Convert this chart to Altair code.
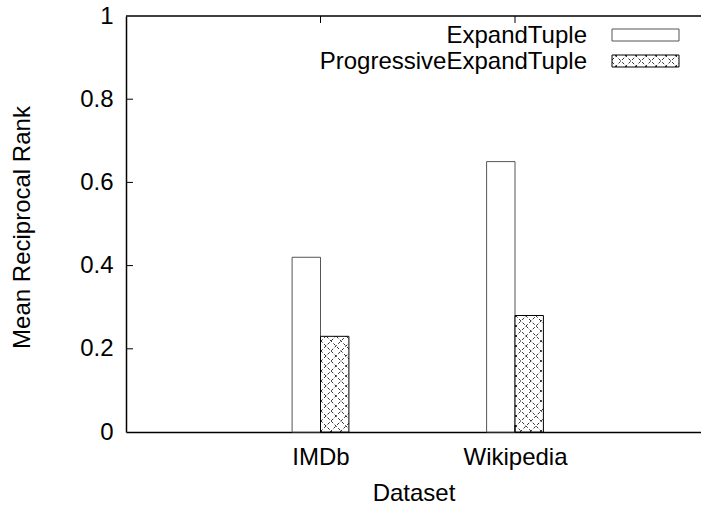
import json
import math
import altair as alt
import pandas as pd

# ---------------- data ----------------
categories = ["IMDb", "Wikipedia"]
series = ["ExpandTuple", "ProgressiveExpandTuple"]
expand_tuple = [0.42, 0.65]
progressive_expand_tuple = [0.23, 0.28]
y_ticks = [0, 0.2, 0.4, 0.6, 0.8, 1]

# ---------------- layout / style ----------------
FONT = "Liberation Sans"
FS = 24
W, H = 575, 416
PX_PER_UNIT = 194.5
XMIN = -1.0
XMAX = XMIN + W / PX_PER_UNIT
YMIN, YMAX = 0.0, 1.0
BAR_W = 0.146
HATCH = 10.0
TICK = 7


def to_px(x, y):
    return (x - XMIN) * PX_PER_UNIT, (YMAX - y) / (YMAX - YMIN) * H


def to_data(px, py):
    return XMIN + px / PX_PER_UNIT, YMAX - py / H * (YMAX - YMIN)


def hatch(X0, Y0, X1, Y1):
    segs = []
    # family y - x = c
    k0 = math.ceil((Y0 - X1) / HATCH)
    k1 = math.floor((Y1 - X0) / HATCH)
    for k in range(k0, k1 + 1):
        c = k * HATCH
        xs, xe = max(X0, Y0 - c), min(X1, Y1 - c)
        if xe - xs > 0.3:
            segs.append((xs, xs + c, xe, xe + c))
    # family y + x = c
    k0 = math.ceil((X0 + Y0) / HATCH)
    k1 = math.floor((X1 + Y1) / HATCH)
    for k in range(k0, k1 + 1):
        c = k * HATCH
        xs, xe = max(X0, c - Y1), min(X1, c - Y0)
        if xe - xs > 0.3:
            segs.append((xs, c - xs, xe, c - xe))
    out = []
    for (a, b, cc, d) in segs:
        x1, y1 = to_data(a, b)
        x2, y2 = to_data(cc, d)
        out.append(dict(x=x1, y=y1, x2=x2, y2=y2))
    return out


rows = []
for i, cat in enumerate(categories):
    for j, (s, vals) in enumerate(zip(series, [expand_tuple, progressive_expand_tuple])):
        x0 = i - BAR_W + j * BAR_W
        rows.append(dict(dataset=cat, series=s, value=vals[i], x0=x0, x1=x0 + BAR_W))
bars = pd.DataFrame(rows)

hatch_rows = []
for r in rows:
    if r["series"] == series[1]:
        X0, Y0 = to_px(r["x0"], r["value"])
        X1, Y1 = to_px(r["x1"], 0)
        hatch_rows += hatch(X0, Y0, X1, Y1)

# legend geometry (pixels inside plot area)
LEG_TEXT_X = 461
LEG_SW_X0, LEG_SW_X1 = 486, 553
LEG_ROW_Y = [19, 45]
LEG_SW_H = 12
hatch_rows += hatch(LEG_SW_X0, LEG_ROW_Y[1] - LEG_SW_H / 2, LEG_SW_X1, LEG_ROW_Y[1] + LEG_SW_H / 2)
hatch_df = pd.DataFrame(hatch_rows)

xscale = alt.Scale(domain=[XMIN, XMAX], nice=False, zero=False)
yscale = alt.Scale(domain=[YMIN, YMAX], nice=False, zero=False)

label_expr = json.dumps(categories) + "[datum.value]"

x_axis = alt.Axis(
    values=list(range(len(categories))), labelExpr=label_expr, ticks=False, grid=False,
    domainColor="black", domainWidth=1.5, labelFont=FONT, labelFontSize=FS,
    labelColor="black", labelPadding=13, title="Dataset", titleFont=FONT,
    titleFontSize=FS, titleFontWeight="normal", titleColor="black", titlePadding=12,
)
y_axis = alt.Axis(
    values=y_ticks, format="~g", ticks=False, grid=False, domainColor="black",
    domainWidth=1.5, labelFont=FONT, labelFontSize=FS, labelColor="black",
    labelPadding=13, title="Mean Reciprocal Rank", titleFont=FONT, titleFontSize=FS,
    titleFontWeight="normal", titleColor="black", titleX=-104, titleY=H / 2 + 3,
    titleBaseline="middle", titleAlign="center", titleAngle=270,
)

bar_layer = alt.Chart(bars).mark_bar(fill="white", strokeWidth=1).encode(
    x=alt.X("x0:Q", scale=xscale, axis=x_axis),
    x2="x1:Q",
    y=alt.Y("value:Q", scale=yscale, axis=y_axis),
    y2=alt.datum(0),
    stroke=alt.Stroke("series:N", scale=alt.Scale(domain=series, range=["#555555", "black"]), legend=None),
)

hatch_layer = alt.Chart(hatch_df).mark_rule(color="black", strokeWidth=0.8, strokeDash=[3, 2]).encode(
    x=alt.X("x:Q", scale=xscale),
    y=alt.Y("y:Q", scale=yscale),
    x2="x2:Q",
    y2="y2:Q",
)

ytick_df = pd.DataFrame({"v": y_ticks[1:-1]})
ytick_layer = alt.Chart(ytick_df).mark_rule(color="black", strokeWidth=1).encode(
    y=alt.Y("v:Q", scale=yscale), x=alt.value(0), x2=alt.value(TICK)
)
xtick_df = pd.DataFrame({"i": list(range(len(categories)))})
xtick_top = alt.Chart(xtick_df).mark_rule(color="black", strokeWidth=1).encode(
    x=alt.X("i:Q", scale=xscale), y=alt.value(0), y2=alt.value(TICK)
)
xtick_bot = alt.Chart(xtick_df).mark_rule(color="black", strokeWidth=1).encode(
    x=alt.X("i:Q", scale=xscale), y=alt.value(H), y2=alt.value(H - TICK)
)
top_border = alt.Chart(pd.DataFrame({"t": [YMAX]})).mark_rule(color="black", strokeWidth=1.5).encode(
    y=alt.Y("t:Q", scale=yscale)
)

# legend (gnuplot-like key: label, then swatch on the right)
leg_df = pd.DataFrame({"series": series, "row": [0, 1]})
leg_layers = []
for k, s in enumerate(series):
    cy = LEG_ROW_Y[k]
    leg_layers.append(
        alt.Chart(leg_df[leg_df.row == k]).mark_text(
            align="right", baseline="middle", font=FONT, fontSize=FS, color="black"
        ).encode(text="series:N", x=alt.value(LEG_TEXT_X), y=alt.value(cy + 1))
    )
    leg_layers.append(
        alt.Chart(leg_df[leg_df.row == k]).mark_rect(
            fill="white" if k == 0 else "transparent",
            stroke="#555555" if k == 0 else "black", strokeWidth=1,
        ).encode(
            x=alt.value(LEG_SW_X0), x2=alt.value(LEG_SW_X1),
            y=alt.value(cy - LEG_SW_H / 2), y2=alt.value(cy + LEG_SW_H / 2),
        )
    )

chart = alt.layer(
    bar_layer, hatch_layer, ytick_layer, xtick_top, xtick_bot, top_border, *leg_layers
).properties(
    width=W, height=H,
    autosize=alt.AutoSizeParams(type="none"),
    padding={"left": 126, "top": 16, "right": 0, "bottom": 74},
    background="white",
).configure_view(stroke=None)

chart.save("out.html", embed_options={"renderer": "svg", "actions": False})
